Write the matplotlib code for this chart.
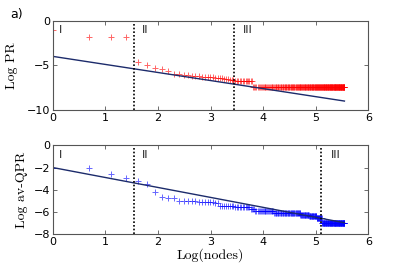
import numpy as np
import matplotlib
matplotlib.use("Agg")
import matplotlib.pyplot as plt

# ---- data ----
nodes = list(range(1, 257))

pr_head = [-1.05, -1.85, -1.85, -1.85,
           -4.65, -5.0, -5.35, -5.45, -5.6, -6.0,
           -6.0, -6.05, -6.1, -6.15, -6.2, -6.2, -6.25, -6.3, -6.3, -6.35,
           -6.35, -6.4, -6.4, -6.45, -6.45, -6.5, -6.5, -6.55, -6.6, -6.6, -6.65]
pr_mid = [-6.78] * 13
pr_tail = [-7.38] * 212
log_pr = pr_head + pr_mid + pr_tail

qpr_head = [-2.0, -2.04, -2.55, -2.94, -3.2, -3.5, -4.17, -4.65, -4.75, -4.75,
            -5.0, -5.0, -5.05, -5.05, -5.05, -5.1, -5.1, -5.1, -5.1, -5.15,
            -5.15, -5.2, -5.2]
qpr_groups = [(-5.45, 8), (-5.6, 11), (-5.75, 4), (-5.9, 20), (-6.1, 44),
              (-6.3, 20), (-6.4, 20), (-6.55, 16), (-7.05, 90)]
log_qpr = qpr_head + [v for v, c in qpr_groups for _ in range(c)]

pr_fit = (-4.0, -0.9)      # intercept, slope
qpr_fit = (-2.0, -0.9)

pr_regions = [1.55, 3.45]
qpr_regions = [1.55, 5.1]
pr_region_labels = [("I", 0.12), ("II", 1.7), ("III", 3.62)]
qpr_region_labels = [("I", 0.12), ("II", 1.7), ("III", 5.28)]

x = np.log(np.array(nodes))
line_color = "#1c2b6b"
serif = "cmr10"

fig = plt.figure(figsize=(4.07, 2.64), dpi=100)
ax1 = fig.add_axes([0.130, 0.583, 0.775, 0.339])
ax2 = fig.add_axes([0.130, 0.114, 0.775, 0.335])

def style(ax, yticks, ylim):
    ax.set_xlim(0, 6)
    ax.set_ylim(*ylim)
    ax.set_xticks(range(0, 7))
    ax.set_yticks(yticks)
    ax.tick_params(direction="in", length=3, labelsize=8, top=True, right=True,
                   pad=2, color="#555555", width=0.6)
    for s in ax.spines.values():
        s.set_color("#555555")
        s.set_linewidth(0.8)

# top panel
ax1.plot(x, log_pr, "+", color="red", ms=3.8, mew=0.7, alpha=0.6, ls="none")
xf = np.array([0, x[-1]])
ax1.plot(xf, pr_fit[0] + pr_fit[1] * xf, color=line_color, lw=1.0)
for v in pr_regions:
    ax1.axvline(v, color="black", ls=(0, (1, 1.2)), lw=1.2)
for t, xv in pr_region_labels:
    ax1.text(xv, -1.1, t, fontsize=8, va="center", ha="left", color="#222222")
style(ax1, [-10, -5, 0], (-10, 0))
ax1.set_ylabel("Log PR", fontfamily=serif, fontsize=10, labelpad=6)

# bottom panel
ax2.plot(x, log_qpr, "+", color="blue", ms=3.8, mew=0.7, alpha=0.6, ls="none")
ax2.plot(xf, qpr_fit[0] + qpr_fit[1] * xf, color=line_color, lw=1.0)
for v in qpr_regions:
    ax2.axvline(v, color="black", ls=(0, (1, 1.2)), lw=1.2)
for t, xv in qpr_region_labels:
    ax2.text(xv, -0.9, t, fontsize=8, va="center", ha="left", color="#222222")
style(ax2, [-8, -6, -4, -2, 0], (-8, 0))
ax2.set_ylabel("Log av-QPR", fontfamily=serif, fontsize=10, labelpad=4)
ax2.set_xlabel("Log(nodes)", fontfamily=serif, fontsize=10, labelpad=1)

fig.text(0.025, 0.945, "a)", fontsize=9, va="center", ha="left")

fig.savefig("out.png", dpi=100)
